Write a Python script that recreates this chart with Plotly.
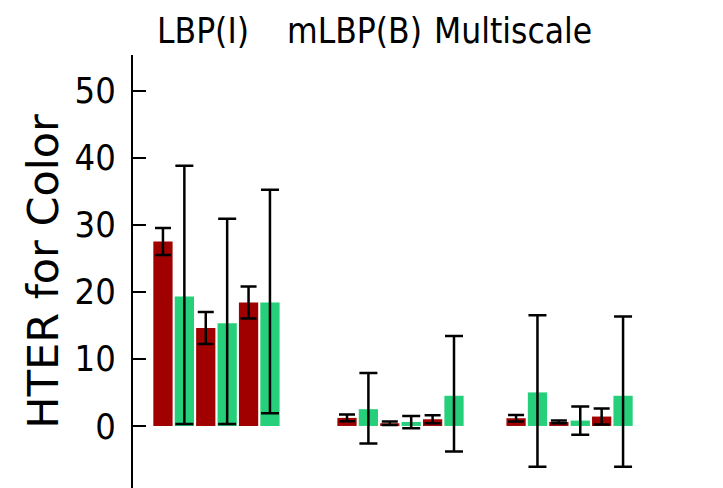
import plotly.graph_objects as go

# ---- data ----
groups = ["LBP(I)", "mLBP(B)", "Multiscale"]

red_vals = [[27.5, 14.6, 18.4], [1.2, 0.4, 1.0], [1.15, 0.6, 1.4]]
red_err = [[2.0, 2.4, 2.4], [0.5, 0.25, 0.6], [0.5, 0.2, 1.2]]

green_vals = [[19.3, 15.3, 18.4], [2.5, 0.6, 4.5], [5.0, 0.8, 4.5]]
green_err_plus = [[19.5, 15.6, 16.8], [5.4, 0.9, 8.9], [11.5, 2.1, 11.8]]
green_err_minus = [[19.0, 15.0, 16.5], [5.1, 0.95, 8.3], [11.1, 2.1, 10.6]]

y_ticks = [0, 10, 20, 30, 40, 50]

# ---- layout helpers ----
group_start = [0, 8.6, 16.5]
label_pos = [1.87, 8.93, 16.36]

red_x, green_x = [], []
for g, s in enumerate(group_start):
    for i in range(3):
        red_x.append(s + 2 * i)
        green_x.append(s + 2 * i + 1)

flat = lambda a: [v for row in a for v in row]

RED = "#A00000"
GREEN = "#26CF7A"
FONT = "DejaVu Sans Condensed, DejaVu Sans, sans-serif"

fig = go.Figure()
fig.add_trace(go.Bar(
    x=red_x, y=flat(red_vals), width=0.9, marker=dict(color=RED, line=dict(width=0)),
    error_y=dict(type="data", array=flat(red_err), color="black", thickness=2.5, width=8),
    name="red"))
fig.add_trace(go.Bar(
    x=green_x, y=flat(green_vals), width=0.9, marker=dict(color=GREEN, line=dict(width=0)),
    error_y=dict(type="data", symmetric=False, array=flat(green_err_plus),
                 arrayminus=flat(green_err_minus), color="black", thickness=2.5, width=9),
    name="green"))

for name, xp in zip(groups, label_pos):
    fig.add_annotation(x=xp, xref="x", y=1, yref="paper", yanchor="bottom",
                       text=name, showarrow=False, yshift=2,
                       font=dict(family=FONT, size=35, color="black"))

fig.add_annotation(x=-0.154, xref="paper", y=0.5, yref="paper", text="HTER for Color",
                   xanchor="center", yanchor="middle",
                   textangle=-90, showarrow=False,
                   font=dict(family="DejaVu Sans, sans-serif", size=43, color="black"))

fig.update_layout(
    width=723, height=488,
    margin=dict(l=133, r=0, t=55, b=0),
    plot_bgcolor="white", paper_bgcolor="white",
    showlegend=False, barmode="overlay",
    xaxis=dict(range=[-1.4, 26.17], visible=False, fixedrange=True),
    yaxis=dict(range=[-9.25, 55.3], tickvals=y_ticks, showgrid=False, zeroline=False,
               showline=True, linecolor="black", linewidth=2,
               ticks="inside", ticklen=13, tickwidth=2, tickcolor="black",
               ticklabelstandoff=8,
               tickfont=dict(family=FONT, size=36, color="black")),
)

fig.write_html("out.html", config={"displayModeBar": False},
               post_script="document.body.style.margin='0';")
